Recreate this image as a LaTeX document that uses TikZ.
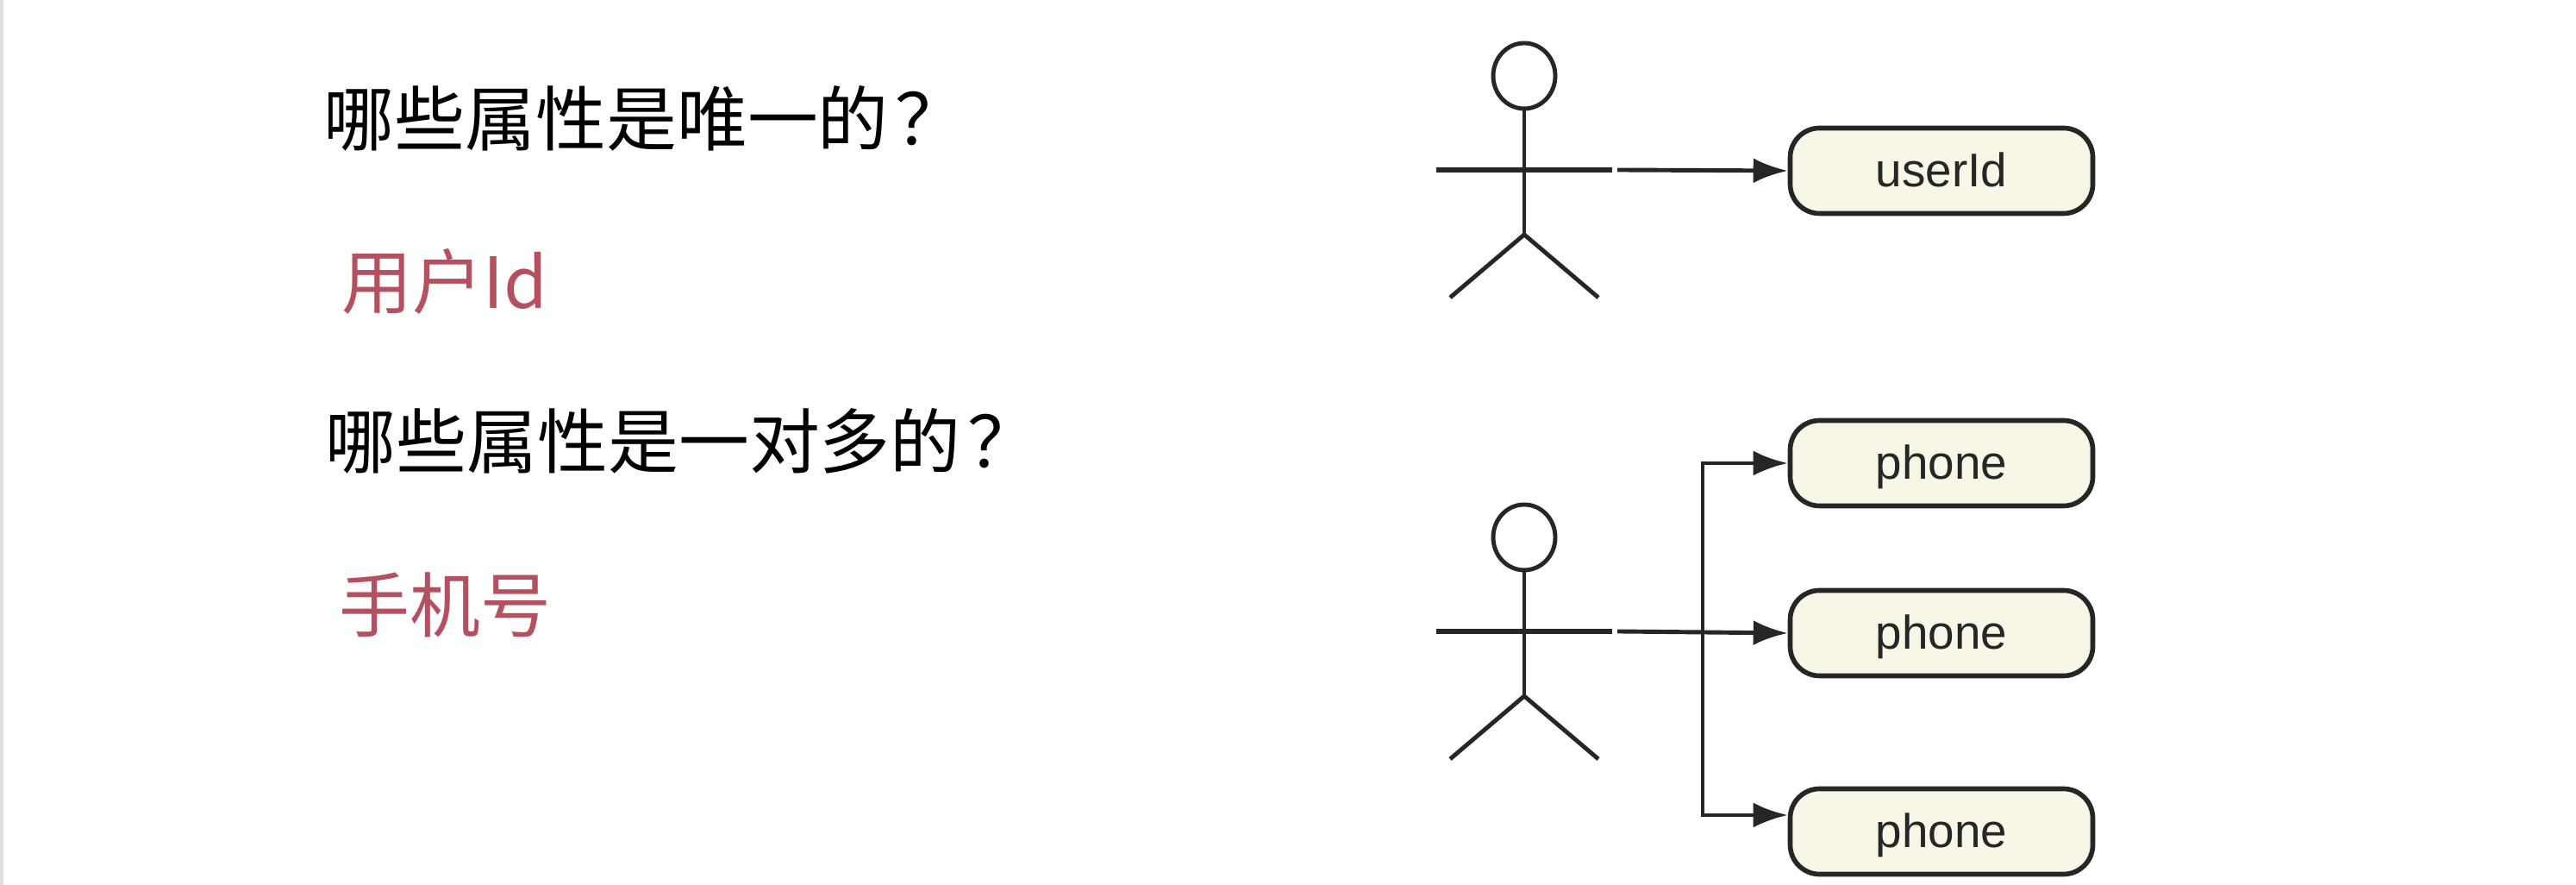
\documentclass[tikz,border=0pt]{standalone}
\usepackage{fontspec}
\setmainfont{Liberation Sans}
\newfontfamily\cjk{Noto Sans CJK SC}
\usetikzlibrary{arrows.meta}
\definecolor{inkline}{HTML}{262626}
\definecolor{boxfill}{HTML}{F8F6E7}
\definecolor{answer}{HTML}{B4505F}
\tikzset{
 question/.style={anchor=west,inner sep=0pt,font=\cjk\fontsize{23.3}{27}\selectfont,text=black},
 reply/.style={question,text=answer},
 attrbox/.style={draw=inkline,line width=1.6pt,fill=boxfill,rounded corners=.34cm,minimum width=3.51cm,minimum height=.99cm,inner sep=0pt,text=inkline,text height=.42cm,text depth=.05cm,font=\fontsize{15.6}{18}\selectfont},
 link/.style={draw=inkline,line width=1.4pt,-{Latex[length=.40cm,width=.29cm]}},
 person/.pic={
  \draw[inkline,line width=1.4pt] (0,1.09) ellipse (.36 and .38);
  \draw[inkline,line width=1.4pt] (0,.71) -- (0,-.75);
  \draw[inkline,line width=1.4pt] (-.86,-1.48) -- (0,-.75) -- (.86,-1.48);
  \draw[inkline,line width=1.8pt] (-1.02,0) -- (1.02,0);
  \coordinate (-hand) at (1.08,0);
 }
}
\begin{document}
\begin{tikzpicture}
 \useasboundingbox (0,0) rectangle (29.88,10.26);
 \draw[black!12,line width=1.2pt] (.02,0) -- (.02,10.26);
 % left column
 \node[question] (q1) at (3.75,8.89) {哪些属性是唯一的\kern.08cm ？};
 \node[reply] (a1) at (3.96,7.00) {用户Id};
 \node[question] (q2) at (3.77,5.15) {哪些属性是一对多的\kern.08cm ？};
 \node[reply] (a2) at (3.93,3.25) {手机号};
 % top actor
 \pic (usr) at (17.68,8.29) {person};
 \node[attrbox] (userid) at (22.52,8.28) {userId};
 \draw[link] (usr-hand) -- (userid.west);
 % bottom actor
 \pic (own) at (17.68,2.94) {person};
 \node[attrbox] (phone1) at (22.52,4.89) {phone};
 \node[attrbox] (phone2) at (22.52,2.92) {phone};
 \node[attrbox] (phone3) at (22.52,.62) {phone};
 \coordinate (fork) at (19.75,2.94);
 \draw[link] (own-hand) -- (phone2.west);
 \draw[link] (fork) |- (phone1.west);
 \draw[link] (fork) |- ([yshift=.19cm]phone3.west);
\end{tikzpicture}
\end{document}
